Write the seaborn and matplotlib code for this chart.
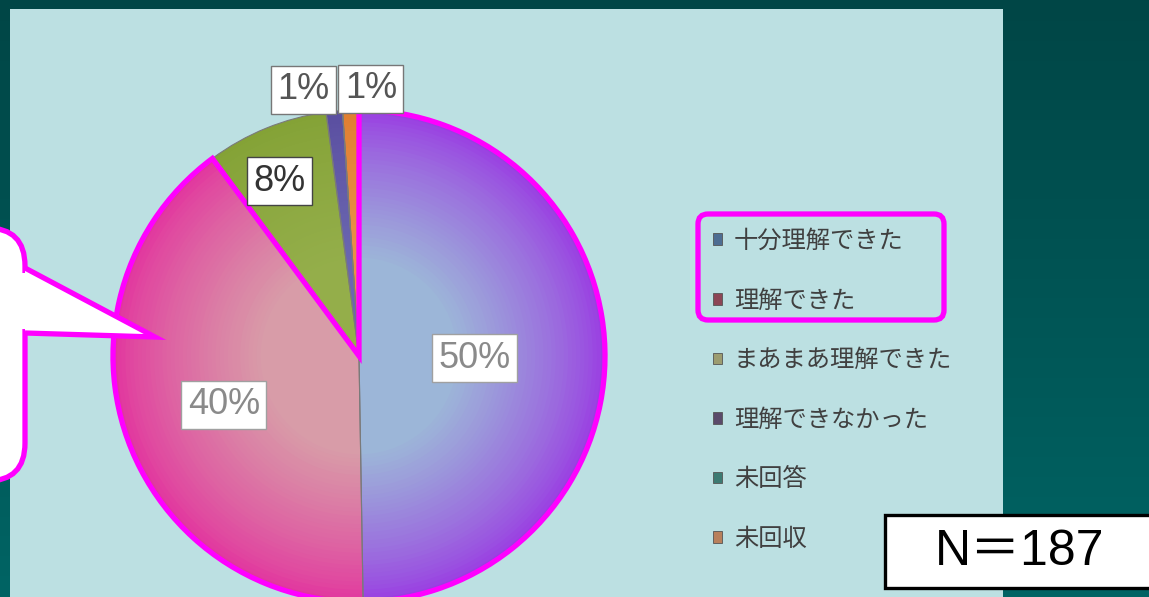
import numpy as np
import matplotlib.pyplot as plt
import seaborn as sns
from matplotlib.patches import Patch, FancyBboxPatch, Polygon, Rectangle

# survey answers (N=187)
categories = ['十分理解できた', '理解できた', 'まあまあ理解できた', '理解できなかった', '未回答', '未回収']
counts = [93, 75, 15, 2, 0, 2]
total = 187
pct_labels = [f'{round(c / total * 100)}%' if c > 0 else '' for c in counts]

# slice colours: outer rim -> centre (path gradient look), and legend swatches
edge_colors = ['#9a3ee2', '#e2369e', '#84a236', '#5a4ea0', '#2e4a56', '#e07e30']
center_colors = ['#9cb6d8', '#d89ca8', '#94ae4a', '#6a66b0', '#2e4a56', '#e89048']
legend_colors = ['#4d6d92', '#8c4656', '#9c9c70', '#5a4a6a', '#3c7a72', '#b8805c']

W, H = 1149, 597
sns.set_style('white')
plt.rcParams['font.family'] = ['Noto Sans CJK JP', 'DejaVu Sans']

fig = plt.figure(figsize=(W / 100, H / 100), dpi=100)
ax = fig.add_axes([0, 0, 1, 1])

# dark teal slide background + light chart area
grad = np.linspace(0, 1, 256).reshape(-1, 1)
bg = sns.blend_palette(['#004646', '#006464'], 256, as_cmap=True)
ax.imshow(grad, cmap=bg, extent=(0, W, 0, H), aspect='auto', zorder=0)
ax.add_patch(Rectangle((10, 0), 993, H - 9, fc='#bce0e2', ec='none', zorder=1))

# pie drawn as stacked rings to fake the radial gradient
cx, cy, R = 359, H - 356, 246
steps = 60
ramps = [sns.blend_palette([e, c], steps) for e, c in zip(edge_colors, center_colors)]
for k in range(steps):
    r = 1 - k / steps
    t = min(1.0, (1 - r) / 0.6) ** 0.8
    idx = int(t * (steps - 1))
    ax.pie(counts, radius=R * r, center=(cx, cy), startangle=90, counterclock=False,
           colors=[ramp[idx] for ramp in ramps], wedgeprops=dict(lw=0, zorder=2))

wedges, _ = ax.pie(counts, radius=R, center=(cx, cy), startangle=90, counterclock=False,
                   wedgeprops=dict(fill=False, ec='#7a7a7a', lw=0.8, zorder=3))

# magenta outline round the two top answers
outline, _ = ax.pie([counts[0] + counts[1], sum(counts[2:])], radius=R, center=(cx, cy),
                    startangle=90, counterclock=False,
                    wedgeprops=dict(fill=False, ec='#ff00ff', lw=3.8, zorder=4, joinstyle='miter'))
outline[1].set_visible(False)

# percentage labels in boxes
label_dist = [0.47, 0.58, 0.78, 1.1, 0, 1.1]
label_shift = [0, 0, -7, -28, 0, 21]
label_color = ['#8a8a8a', '#8a8a8a', '#333333', '#555555', '#555555', '#555555']
box_color = ['#a0a0a0', '#a0a0a0', '#444444', '#777777', '#777777', '#777777']
for w, txt, d, s, tc, bc in zip(wedges, pct_labels, label_dist, label_shift, label_color, box_color):
    if not txt:
        continue
    a = np.deg2rad((w.theta1 + w.theta2) / 2)
    x = cx + d * R * np.cos(a) + s
    y = cy + d * R * np.sin(a) - 3
    ax.text(x, y, txt, ha='center', va='center', fontsize=26, color=tc,
            family=['Liberation Sans'], zorder=6,
            bbox=dict(boxstyle='square,pad=0.18', fc='white', ec=bc, lw=1))

# legend
handles = [Patch(fc=c, ec='#555555', lw=0.6) for c in legend_colors]
ax.legend(handles, categories, loc='upper left', bbox_to_anchor=(713 / W, 1 - 228 / H),
          frameon=False, fontsize=17.5, labelspacing=1.38, handlelength=0.36, handleheight=0.36,
          handletextpad=0.5, borderpad=0, borderaxespad=0, labelcolor='#404040')
ax.add_patch(FancyBboxPatch((698, H - 320), 246, 106, boxstyle='round,pad=0,rounding_size=10',
                            fill=False, ec='#ff00ff', lw=3.8, zorder=5))

# speech bubble on the left
ax.add_patch(FancyBboxPatch((-120, H - 481), 145, 253, boxstyle='round,pad=0,rounding_size=38',
                            fc='white', ec='#ff00ff', lw=3.8, zorder=5))
ax.add_patch(Polygon([(25, H - 268), (155, H - 337), (25, H - 333)], closed=False,
                     fc='white', ec='#ff00ff', lw=3.8, zorder=6, joinstyle='miter'))
ax.add_patch(Rectangle((19, H - 329), 10, 56, fc='white', ec='none', zorder=7))

# N box
ax.add_patch(Rectangle((885, H - 588), 300, 73, fc='white', ec='black', lw=2.4, zorder=5))
ax.text(1020, H - 552, 'N＝187', ha='center', va='center', fontsize=36, color='black',
        family=['Liberation Sans', 'Noto Sans CJK JP'], zorder=6)

ax.set_xlim(0, W)
ax.set_ylim(0, H)
ax.set_aspect('auto')
ax.axis('off')
fig.savefig('out.png', dpi=100)
